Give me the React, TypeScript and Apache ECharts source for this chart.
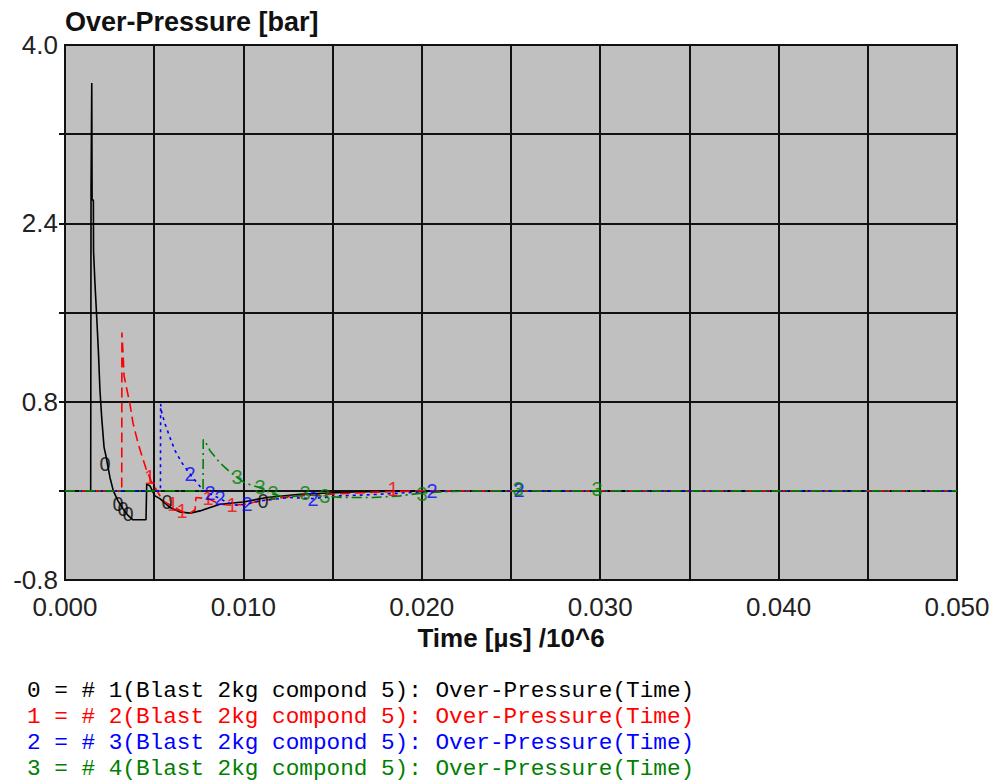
import { useEffect, useRef } from "react";
import * as echarts from "echarts";

// ---- data (time in µs/10^6, over-pressure in bar) ----
const yTickLabelValues = [-0.8, 0.8, 2.4, 4.0];
const yTickMarkValues = [0, 0.8, 1.6, 2.4, 3.2];
const xTickLabelValues = [0, 0.01, 0.02, 0.03, 0.04, 0.05];
const xTickMarkValues = [0.005, 0.01, 0.015, 0.02, 0.025, 0.03, 0.035, 0.04, 0.045];

const seriesDigits = ["0", "1", "2", "3"];
const legendTexts = [
  "0 = # 1(Blast 2kg compond 5): Over-Pressure(Time)",
  "1 = # 2(Blast 2kg compond 5): Over-Pressure(Time)",
  "2 = # 3(Blast 2kg compond 5): Over-Pressure(Time)",
  "3 = # 4(Blast 2kg compond 5): Over-Pressure(Time)",
];

const pressure0: [number, number][] = [
  [0, 0], [0.00144, 0], [0.00146, 2.72], [0.0015, 3.66], [0.00152, 2.61], [0.00159, 2.61],
  [0.0016, 2.15], [0.00168, 1.86], [0.00178, 1.55], [0.00187, 1.26], [0.00196, 0.9],
  [0.00206, 0.65], [0.00219, 0.39], [0.0023, 0.31], [0.00252, 0.12], [0.00271, 0],
  [0.00297, -0.09], [0.00325, -0.16], [0.00353, -0.22], [0.00381, -0.26], [0.00454, -0.26],
  [0.00458, 0.06], [0.00476, 0.045], [0.00504, -0.045], [0.00532, -0.07], [0.00589, -0.15],
  [0.00645, -0.19], [0.00701, -0.2], [0.00757, -0.18], [0.00869, -0.12], [0.00998, -0.1],
  [0.01132, -0.06], [0.01317, -0.03], [0.01614, -0.01], [0.01782, -0.005], [0.02, 0], [0.05, 0],
];

const pressure1: [number, number][] = [
  [0, 0], [0.00318, 0], [0.00319, 1.42], [0.00325, 1.24], [0.00331, 1.03], [0.00348, 0.9],
  [0.00364, 0.78], [0.00381, 0.61], [0.00409, 0.43], [0.00432, 0.31], [0.00454, 0.2],
  [0.00482, 0.09], [0.00516, 0], [0.00549, -0.09], [0.00605, -0.14], [0.00661, -0.19],
  [0.00701, -0.2], [0.00729, -0.17], [0.00734, -0.06], [0.00802, -0.07], [0.00869, -0.12],
  [0.00936, -0.13], [0.01009, -0.12], [0.01093, -0.09], [0.01261, -0.05], [0.01485, -0.03],
  [0.01766, -0.01], [0.0199, 0], [0.05, 0],
];

const pressure2: [number, number][] = [
  [0, 0], [0.00535, 0], [0.00536, 0.78], [0.00542, 0.7], [0.00561, 0.6], [0.00589, 0.475],
  [0.00617, 0.36], [0.00656, 0.25], [0.00701, 0.15], [0.00746, 0.06], [0.00779, 0],
  [0.00824, -0.035], [0.00869, -0.07], [0.00914, -0.11], [0.00964, -0.13], [0.0102, -0.12],
  [0.01093, -0.09], [0.01261, -0.06], [0.0139, -0.07], [0.01541, -0.045], [0.0171, -0.035],
  [0.01878, -0.02], [0.02057, -0.005], [0.0227, 0], [0.05, 0],
];

const pressure3: [number, number][] = [
  [0, 0], [0.00774, 0], [0.00775, 0.46], [0.0079, 0.43], [0.00813, 0.36], [0.00869, 0.25],
  [0.00925, 0.17], [0.00964, 0.12], [0.01009, 0.07], [0.01076, 0.036], [0.01121, 0.01],
  [0.01166, -0.03], [0.01244, -0.06], [0.01345, -0.035], [0.01457, -0.05], [0.0157, -0.06],
  [0.01726, -0.06], [0.01878, -0.045], [0.02001, -0.02], [0.02158, -0.005], [0.02326, 0], [0.05, 0],
];

// digit markers placed along each curve
const markers0: [number, number][] = [
  [0.00224, 0.24], [0.00297, -0.12], [0.00325, -0.16], [0.00353, -0.21], [0.00572, -0.1], [0.0111, -0.09],
];
const markers1: [number, number][] = [
  [0.00476, 0.12], [0.00605, -0.12], [0.00656, -0.18], [0.00802, -0.06], [0.00936, -0.13], [0.01839, 0.02],
];
const markers2: [number, number][] = [
  [0.00701, 0.15], [0.00813, -0.02], [0.00869, -0.06], [0.0102, -0.12], [0.0139, -0.07], [0.02057, 0.0], [0.02545, 0.01],
];
const markers3: [number, number][] = [
  [0.00964, 0.12], [0.01093, 0.03], [0.01166, -0.02], [0.01345, -0.02], [0.01457, -0.045], [0.02001, -0.03], [0.02539, 0.02], [0.02982, 0.02],
];

const curves = [pressure0, pressure1, pressure2, pressure3];
const markerSets = [markers0, markers1, markers2, markers3];

// ---- styles ----
const colors = ["#000000", "#ff0000", "#0000ff", "#008000"];
const dashes: any[] = ["solid", [10, 5], [3, 4], [10, 4, 2, 4]];

export default function App() {
  const ref = useRef<HTMLDivElement>(null);

  useEffect(() => {
    if (!ref.current) return;
    const chart = echarts.init(ref.current, undefined, { renderer: "svg" });

    const lineSeries = curves.map((d, i) => ({
      type: "line",
      data: d,
      showSymbol: false,
      symbol: "none",
      z: 3 + i,
      lineStyle: { color: colors[i], width: 1.6, type: dashes[i] },
      clip: true,
    }));

    const markerSeries = markerSets.map((d, i) => ({
      type: "scatter",
      data: d,
      symbol: "circle",
      symbolSize: 0.1,
      itemStyle: { color: "transparent" },
      z: 10,
      label: {
        show: true,
        position: "inside",
        formatter: seriesDigits[i],
        color: colors[i],
        fontFamily: "Liberation Sans, Arial, sans-serif",
        fontSize: 20,
      },
    }));

    chart.setOption({
      animation: false,
      backgroundColor: "#ffffff",
      grid: {
        left: 65,
        right: 36,
        top: 45,
        bottom: 202,
        show: true,
        backgroundColor: "#c0c0c0",
        borderColor: "#111",
        borderWidth: 2,
      },
      xAxis: {
        type: "value",
        min: 0,
        max: 0.05,
        interval: 0.005,
        axisLine: { show: false },
        axisTick: {
          show: true,
          customValues: xTickMarkValues,
          length: 8,
          lineStyle: { color: "#111", width: 2 },
        },
        splitLine: { show: true, lineStyle: { color: "#111", width: 2 } },
        axisLabel: {
          customValues: xTickLabelValues,
          formatter: (v: number) => v.toFixed(3),
          fontFamily: "Liberation Sans, Arial, sans-serif",
          fontSize: 26,
          color: "#222",
          margin: 14,
        },
      },
      yAxis: {
        type: "value",
        min: -0.8,
        max: 4.0,
        interval: 0.8,
        axisLine: { show: false },
        axisTick: {
          show: true,
          customValues: yTickMarkValues,
          length: 6,
          lineStyle: { color: "#111", width: 2 },
        },
        splitLine: { show: true, lineStyle: { color: "#111", width: 2 } },
        axisLabel: {
          customValues: yTickLabelValues,
          formatter: (v: number) => v.toFixed(1),
          fontFamily: "Liberation Sans, Arial, sans-serif",
          fontSize: 26,
          color: "#222",
          margin: 7,
          verticalAlign: "middle",
          padding: [0, 0, 14, 0],
        },
      },
      graphic: [
        {
          type: "text",
          left: 65,
          top: 8,
          style: {
            text: "Over-Pressure [bar]",
            font: "bold 27px 'Liberation Sans', Arial, sans-serif",
            fill: "#111",
          },
        },
        {
          type: "text",
          x: 511,
          y: 638,
          style: {
            text: "Time [µs] /10^6",
            font: "bold 26px 'Liberation Sans', Arial, sans-serif",
            fill: "#111",
            align: "center",
            verticalAlign: "middle",
          },
        },
        ...legendTexts.map((t, i) => ({
          type: "text",
          x: 27,
          y: 691 + i * 26,
          style: {
            text: t,
            font: "22.7px 'Courier New', 'Liberation Mono', monospace",
            fill: colors[i],
            verticalAlign: "middle",
          },
        })),
      ],
      series: [...lineSeries, ...markerSeries],
    });

    return () => chart.dispose();
  }, []);

  return <div ref={ref} style={{ width: 993, height: 782, position: "absolute", left: 0, top: 0 }} />;
}
